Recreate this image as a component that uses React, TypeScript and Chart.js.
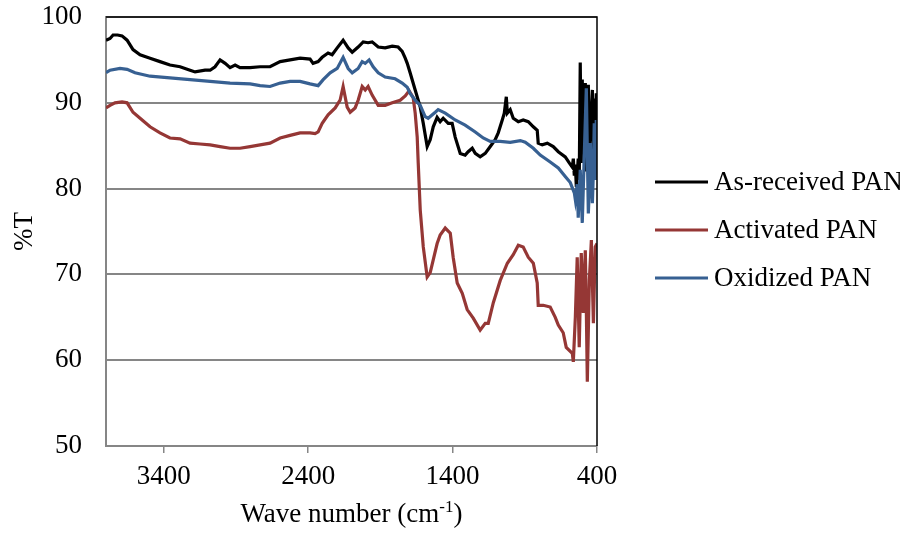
import React, { useEffect, useRef } from "react";
import { Chart, registerables } from "chart.js";

Chart.register(...registerables);

// ---------- data ----------
const seriesNames = ["As-received PAN", "Activated PAN", "Oxidized PAN"];
const seriesColors = ["#000000", "#953735", "#376092"];
const xTickValues = [400, 1400, 2400, 3400];
const yTickValues = [50, 60, 70, 80, 90, 100];
const xTitleMain = "Wave number (cm";
const xTitleSup = "-1";
const xTitleEnd = ")";
const yTitle = "%T";

const asReceivedWave = [
  3800, 3772, 3751, 3720, 3689, 3654, 3613, 3564, 3495, 3426, 3357, 3287, 3218, 3183, 3114, 3079,
  3045, 3010, 2975, 2941, 2906, 2872, 2802, 2733, 2664, 2594, 2525, 2456, 2387, 2366, 2331, 2303,
  2262, 2234, 2199, 2158, 2123, 2095, 2054, 2019, 1985, 1957, 1915, 1867, 1818, 1777, 1749, 1728,
  1714, 1694, 1659, 1624, 1603, 1576, 1555, 1534, 1507, 1486, 1465, 1430, 1403, 1382, 1347, 1313, 1292,
  1264, 1243, 1209, 1174, 1139, 1105, 1084, 1056, 1042, 1028, 1021, 1001, 980, 945, 911, 876,
  841, 814, 807, 779, 744, 703, 668, 620, 592, 571, 564, 557, 550, 543, 530, 523,
  516, 509, 502, 495, 488, 481, 474, 467, 460, 453, 446, 439, 432, 425, 419, 412,
  405, 400,
];
const asReceivedT = [
  97.3, 97.5, 97.9, 97.9, 97.8, 97.3, 96.2, 95.6, 95.2, 94.8, 94.4, 94.2, 93.8, 93.6, 93.8, 93.8,
  94.2, 95.0, 94.6, 94.1, 94.4, 94.1, 94.1, 94.2, 94.2, 94.8, 95.0, 95.2, 95.1, 94.6, 94.8, 95.3,
  95.8, 95.6, 96.4, 97.3, 96.4, 95.9, 96.5, 97.1, 97.0, 97.1, 96.5, 96.4, 96.6, 96.5, 96.0, 95.2,
  94.6, 93.5, 91.5, 89.5, 87.6, 84.9, 85.7, 87.2, 88.3, 87.8, 88.2, 87.6, 87.6, 86.0, 84.1, 83.9, 84.3,
  84.7, 84.1, 83.7, 84.1, 84.9, 85.7, 86.5, 88.0, 88.8, 90.7, 88.8, 89.2, 88.2, 87.8, 88.0, 87.8,
  87.2, 86.8, 85.3, 85.1, 85.3, 84.9, 84.3, 83.7, 83.0, 82.5, 83.5, 81.5, 82.8, 80.2, 83.5, 81.0,
  94.7, 83.0, 92.7, 84.0, 88.5, 92.3, 82.0, 87.0, 92.1, 84.5, 86.5, 89.0, 91.5, 83.5, 90.5, 85.0,
  91.1, 88.0,
];

const activatedWave = [
  3800, 3772, 3738, 3689, 3654, 3613, 3564, 3495, 3426, 3357, 3287, 3218, 3149, 3079, 3010, 2941,
  2872, 2802, 2733, 2664, 2594, 2525, 2456, 2387, 2352, 2331, 2303, 2262, 2213, 2179, 2158, 2130,
  2109, 2075, 2054, 2026, 2005, 1985, 1957, 1915, 1867, 1818, 1763, 1728, 1701, 1673, 1659, 1645,
  1638, 1624, 1603, 1576, 1555, 1534, 1507, 1486, 1451, 1416, 1396, 1368, 1333, 1299, 1257, 1209,
  1174, 1153, 1118, 1070, 1021, 980, 945, 911, 876, 841, 814, 807, 772, 724, 689, 668,
  634, 613, 571, 564, 550, 537, 523, 509, 495, 481, 474, 467, 453, 439, 425, 412,
  400,
];
const activatedT = [
  89.4, 89.7, 90.0, 90.1, 90.0, 88.9, 88.2, 87.2, 86.5, 85.9, 85.8, 85.3, 85.2, 85.1, 84.9, 84.7,
  84.7, 84.9, 85.1, 85.3, 85.9, 86.2, 86.5, 86.5, 86.4, 86.6, 87.6, 88.6, 89.4, 90.3, 91.9, 89.5,
  88.9, 89.4, 90.3, 91.9, 91.5, 91.9, 90.9, 89.7, 89.7, 90.0, 90.3, 90.8, 91.4, 90.6, 88.8, 86.0,
  83.0, 77.5, 73.2, 69.7, 70.2, 71.7, 73.6, 74.6, 75.4, 74.8, 72.0, 69.0, 67.8, 65.9, 64.9, 63.5,
  64.3, 64.3, 66.7, 69.3, 71.3, 72.3, 73.4, 73.2, 72.0, 71.3, 69.0, 66.4, 66.4, 66.2, 65.0, 64.1,
  63.2, 61.5, 60.8, 59.8, 65.0, 72.0, 61.5, 72.5, 65.5, 72.8, 66.0, 57.5, 69.3, 74.0, 64.3, 73.2,
  73.6,
];

const oxidizedWave = [
  3800, 3772, 3703, 3654, 3599, 3495, 3357, 3218, 3079, 2941, 2802, 2733, 2664, 2594, 2525, 2456,
  2387, 2331, 2296, 2248, 2199, 2158, 2123, 2095, 2054, 2026, 2005, 1978, 1950, 1915, 1867, 1798,
  1749, 1714, 1694, 1659, 1624, 1590, 1569, 1520, 1500, 1451, 1382, 1313, 1243, 1188, 1139, 1070,
  1001, 931, 897, 841, 793, 724, 668, 620, 585, 557, 550, 537, 530, 516, 502, 488,
  474, 460, 453, 446, 432, 425, 419, 412, 405, 400,
];
const oxidizedT = [
  93.5, 93.8, 94.0, 93.9, 93.5, 93.1, 92.9, 92.7, 92.5, 92.3, 92.2, 92.0, 91.9, 92.3, 92.5, 92.5,
  92.2, 92.0, 92.7, 93.5, 94.0, 95.3, 94.0, 93.5, 94.0, 94.8, 94.6, 95.0, 94.2, 93.5, 93.0, 92.8,
  92.3, 91.8, 91.1, 90.3, 89.7, 88.4, 88.2, 88.9, 89.2, 88.8, 88.0, 87.4, 86.6, 85.9, 85.5, 85.5,
  85.4, 85.6, 85.4, 84.7, 83.9, 83.1, 82.4, 81.4, 80.7, 79.5, 78.7, 80.5, 76.6, 82.2, 76.0, 84.0,
  91.7, 77.1, 80.0, 85.3, 78.3, 82.0, 87.6, 81.0, 88.0, 84.7,
];

const FONT = "'Liberation Serif', 'Times New Roman', serif";

function toPoints(xs: number[], ys: number[]) {
  return xs.map((x, i) => ({ x, y: ys[i] }));
}

export default function App() {
  const canvasRef = useRef<HTMLCanvasElement | null>(null);

  useEffect(() => {
    const canvas = canvasRef.current;
    if (!canvas) return;

    const extras = {
      id: "extras",
      afterDraw(chart: any) {
        const { ctx, chartArea } = chart;
        const { left, top, right, bottom } = chartArea;
        ctx.save();
        // plot border top + right
        ctx.strokeStyle = "#000000";
        ctx.lineWidth = 1.5;
        ctx.beginPath();
        ctx.moveTo(left, top);
        ctx.lineTo(right, top);
        ctx.lineTo(right, bottom);
        ctx.stroke();

        // x title with superscript
        ctx.fillStyle = "#000000";
        ctx.textBaseline = "alphabetic";
        ctx.textAlign = "left";
        const mainFont = `27px ${FONT}`;
        const supFont = `17px ${FONT}`;
        ctx.font = mainFont;
        const w1 = ctx.measureText(xTitleMain).width;
        const w3 = ctx.measureText(xTitleEnd).width;
        ctx.font = supFont;
        const w2 = ctx.measureText(xTitleSup).width;
        const total = w1 + w2 + w3;
        const cx = (left + right) / 2;
        let x = cx - total / 2;
        const baseY = 522;
        ctx.font = mainFont;
        ctx.fillText(xTitleMain, x, baseY);
        x += w1;
        ctx.font = supFont;
        ctx.fillText(xTitleSup, x, baseY - 10);
        x += w2;
        ctx.font = mainFont;
        ctx.fillText(xTitleEnd, x, baseY);

        // legend
        const legendY = [182, 230, 278];
        seriesNames.forEach((name, i) => {
          ctx.strokeStyle = seriesColors[i];
          ctx.lineWidth = 3;
          ctx.beginPath();
          ctx.moveTo(655, legendY[i]);
          ctx.lineTo(708, legendY[i]);
          ctx.stroke();
          ctx.fillStyle = "#000000";
          ctx.font = mainFont;
          ctx.textBaseline = "middle";
          ctx.fillText(name, 714, legendY[i] + 1);
        });
        ctx.restore();
      },
    };

    const chart = new Chart(canvas, {
      type: "line",
      data: {
        datasets: [
          {
            label: seriesNames[0],
            data: toPoints(asReceivedWave, asReceivedT),
            borderColor: seriesColors[0],
            backgroundColor: seriesColors[0],
            borderWidth: 3.2,
            pointRadius: 0,
            tension: 0,
            order: 3,
          },
          {
            label: seriesNames[1],
            data: toPoints(activatedWave, activatedT),
            borderColor: seriesColors[1],
            backgroundColor: seriesColors[1],
            borderWidth: 3.2,
            pointRadius: 0,
            tension: 0,
            order: 2,
          },
          {
            label: seriesNames[2],
            data: toPoints(oxidizedWave, oxidizedT),
            borderColor: seriesColors[2],
            backgroundColor: seriesColors[2],
            borderWidth: 3.2,
            pointRadius: 0,
            tension: 0,
            order: 1,
          },
        ],
      },
      options: {
        responsive: false,
        animation: false,
        events: [],
        layout: { padding: { left: 0, top: 17, right: 303, bottom: 0 } },
        plugins: {
          legend: { display: false },
          tooltip: { enabled: false },
          title: { display: false },
        },
        scales: {
          x: {
            type: "linear",
            reverse: true,
            min: 400,
            max: 3800,
            afterBuildTicks: (s: any) => {
              s.ticks = xTickValues.map((v) => ({ value: v }));
            },
            afterFit: (s: any) => {
              s.height = 87;
              s.paddingLeft = 0;
              s.paddingRight = 0;
            },
            grid: {
              drawOnChartArea: false,
              drawTicks: true,
              tickLength: 7,
              color: "#868686",
              lineWidth: 1.5,
            },
            border: { color: "#868686", width: 2 },
            ticks: {
              padding: 8,
              color: "#000000",
              maxRotation: 0,
              autoSkip: false,
              font: { family: FONT, size: 27 },
              callback: (v: any) => String(v),
            },
          },
          y: {
            min: 50,
            max: 100,
            afterBuildTicks: (s: any) => {
              s.ticks = yTickValues.map((v) => ({ value: v }));
            },
            afterFit: (s: any) => {
              s.width = 106;
              s.paddingTop = 0;
              s.paddingBottom = 0;
            },
            grid: { drawTicks: false, color: "#868686", lineWidth: 2 },
            border: { color: "#868686", width: 2 },
            ticks: {
              padding: 24,
              color: "#000000",
              font: { family: FONT, size: 27 },
              callback: (v: any) => String(v),
            },
            title: {
              display: true,
              text: yTitle,
              color: "#000000",
              font: { family: FONT, size: 27 },
              padding: { top: 9, bottom: 0 },
            },
          },
        },
      },
      plugins: [extras],
    } as any);

    return () => {
      chart.destroy();
    };
  }, []);

  return (
    <div style={{ position: "absolute", left: 0, top: 0, width: 900, height: 533, background: "#ffffff" }}>
      <canvas ref={canvasRef} width={900} height={533} style={{ display: "block" }} />
    </div>
  );
}
